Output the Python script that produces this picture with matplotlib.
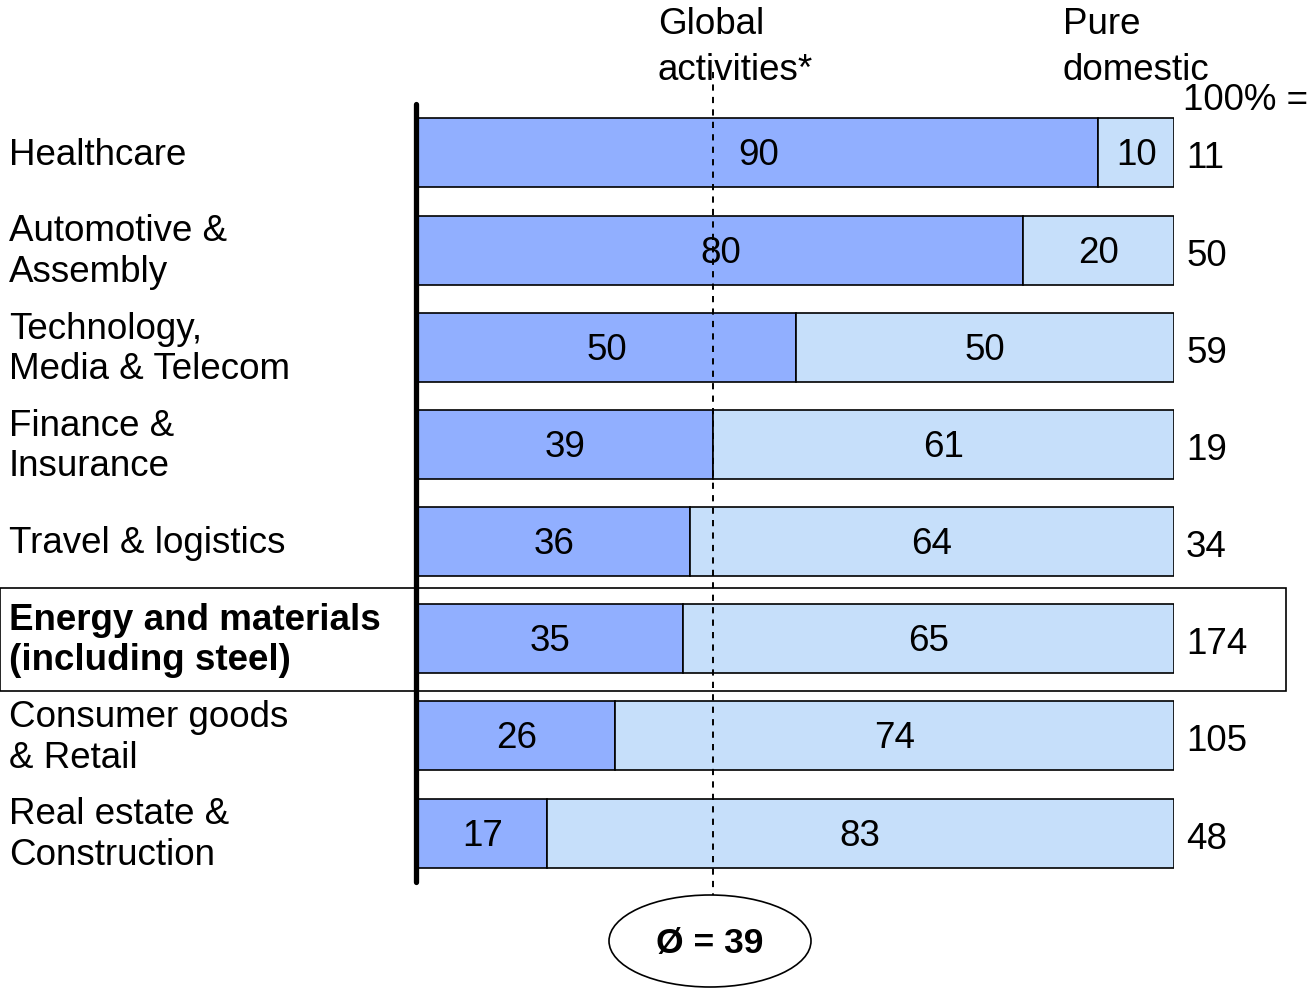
import matplotlib
matplotlib.use("Agg")
import matplotlib.pyplot as plt
from matplotlib.patches import Ellipse, Rectangle

plt.rcParams['font.family'] = ['Liberation Sans', 'DejaVu Sans']

# Share of revenue from global activities vs. pure domestic business (%)
sectors = ["Healthcare", "Automotive &\nAssembly", "Technology,\nMedia & Telecom",
           "Finance &\nInsurance", "Travel & logistics",
           "Energy and materials\n(including steel)", "Consumer goods\n& Retail",
           "Real estate &\nConstruction"]
global_share = [90, 80, 50, 39, 36, 35, 26, 17]
domestic_share = [10, 20, 50, 61, 64, 65, 74, 83]
totals = [11, 50, 59, 19, 34, 174, 105, 48]
average = 39
highlight = "Energy and materials\n(including steel)"

DARK = "#91AFFF"
LIGHT = "#C6DFFA"
FS = 26.5

W, H = 1313, 989
fig = plt.figure(figsize=(W / 100, H / 100), dpi=100)


def fx(px):
    return px / W


def fy(py):
    return 1 - py / H


ROW = 97.14
ax = fig.add_axes([fx(418), fy(881.6), fx(1174) - fx(418), fy(104.4) - fy(881.6)])
ax.set_xlim(0, 100)
ax.set_ylim(len(sectors) - 0.5, -0.5)

ypos = list(range(len(sectors)))
ax.barh(ypos, global_share, height=0.71, color=DARK, edgecolor="black", linewidth=1.2, zorder=2)
ax.barh(ypos, domestic_share, left=global_share, height=0.71, color=LIGHT,
        edgecolor="black", linewidth=1.2, zorder=2)

dy = 3 / ROW
for y, g, d, t in zip(ypos, global_share, domestic_share, totals):
    ax.text(g / 2, y + dy, str(g), ha="center", va="center", fontsize=FS, zorder=4)
    ax.text(g + d / 2, y + dy, str(d), ha="center", va="center", fontsize=FS, zorder=4)
    ax.text(101.6, y + 2 * dy, str(t), ha="left", va="center", fontsize=FS, clip_on=False)

for s in ["top", "right", "bottom"]:
    ax.spines[s].set_visible(False)
ax.spines["left"].set_linewidth(3.8)
ax.spines["left"].set_position(("data", -0.3))
ax.spines["left"].set_capstyle("round")
ax.set_xticks([])
ax.set_yticks([])
ax.patch.set_alpha(0)

# Average line
ax.plot([average, average], [-0.83, 7.74], color="black", lw=1.4, ls=(0, (3.2, 3.2)),
        clip_on=False, zorder=3)

# Category labels
for y, name in zip(ypos, sectors):
    yc = fy(155 + y * ROW)
    bold = name == highlight
    fig.text(fx(9), yc, name, ha="left", va="center", fontsize=FS,
             fontweight="bold" if bold else "normal", linespacing=1.2)

# Highlight frame around the energy row
fig.patches.append(Rectangle((fx(0), fy(691)), fx(1286), fy(588) - fy(691),
                             transform=fig.transFigure, fill=False,
                             edgecolor="black", linewidth=1.2, zorder=0))

# Column headers
for x0, lines in [(658, ["Global", "activities*"]), (1063, ["Pure", "domestic"])]:
    for i, line in enumerate(lines):
        fig.text(fx(x0), fy(25 + 45 * i), line, ha="left", va="center", fontsize=FS)
fig.text(fx(1183), fy(100), "100% =", ha="left", va="center", fontsize=FS)

# Average marker
fig.patches.append(Ellipse((fx(710), fy(941)), fx(202), fy(0) - fy(92),
                           transform=fig.transFigure, facecolor="white",
                           edgecolor="black", linewidth=1.2, zorder=5))
fig.text(fx(710), fy(943), "Ø = " + str(average), ha="center", va="center",
         fontsize=FS - 1, fontweight="bold", zorder=6)

fig.savefig("out.png", dpi=100)
